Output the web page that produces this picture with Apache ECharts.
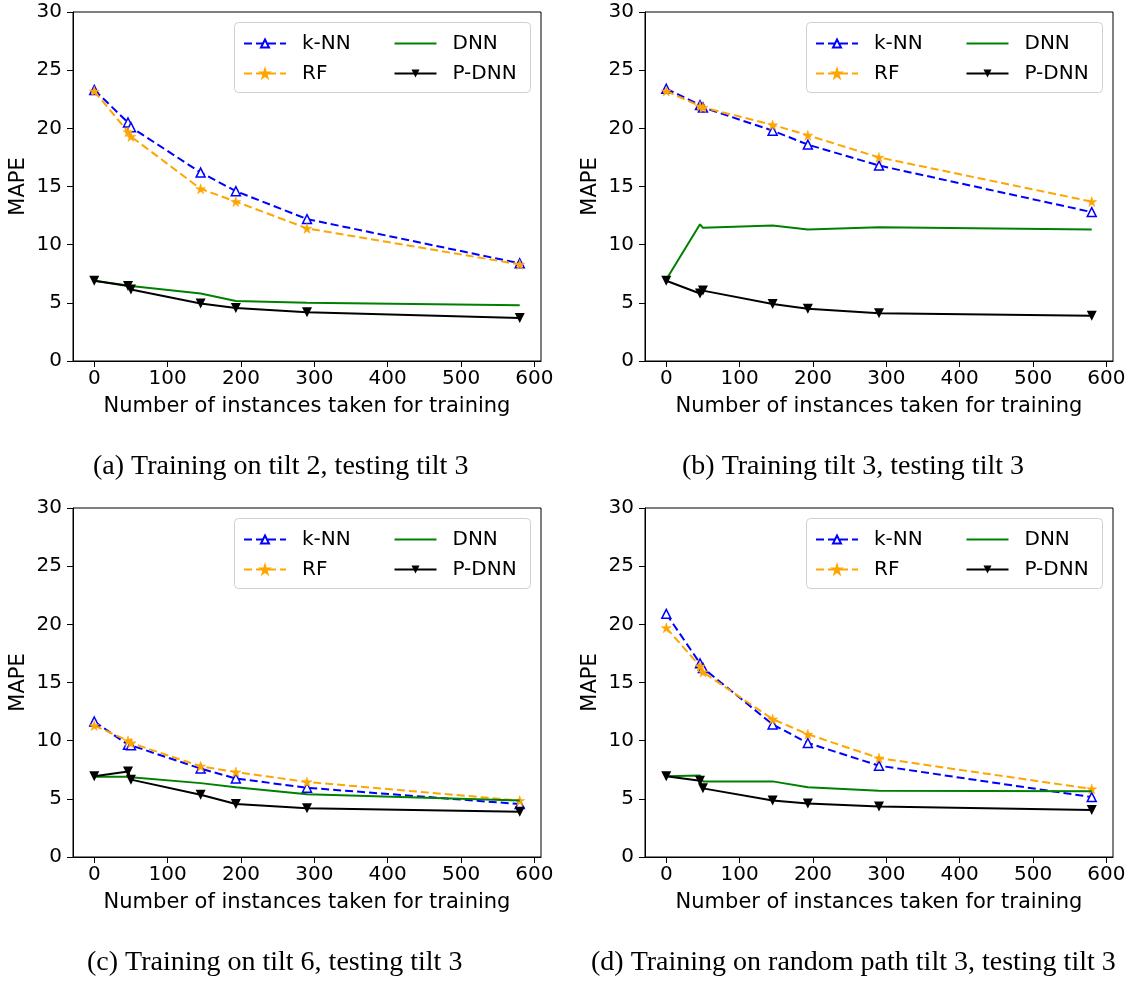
<!DOCTYPE html>
<html><head><meta charset="utf-8">
<script src="https://cdn.jsdelivr.net/npm/echarts@6/dist/echarts.min.js"></script>
<style>html,body{margin:0;padding:0;background:#fff}#c{width:1133px;height:985px}</style>
</head><body><div id="c"></div><script>
// ---- data ----
const xs = [0, 46, 50, 145, 193, 290, 580];
const xTickValues = [0, 100, 200, 300, 400, 500, 600];
const seriesNames = ['k-NN', 'RF', 'DNN', 'P-DNN'];

const knnA  = [23.3, 20.5, 20.1, 16.2, 14.6, 12.2, 8.4];
const rfA   = [23.2, 19.7, 19.3, 14.8, 13.7, 11.4, 8.3];
const dnnA  = [6.9, 6.5, 6.45, 5.8, 5.15, 5.0, 4.8];
const pdnnA = [6.9, 6.45, 6.15, 4.95, 4.55, 4.2, 3.7];

const knnB  = [23.4, 22.0, 21.8, 19.8, 18.6, 16.8, 12.8];
const rfB   = [23.2, 21.9, 21.8, 20.3, 19.4, 17.5, 13.7];
const dnnB  = [7.0, 11.75, 11.45, 11.65, 11.3, 11.5, 11.3];
const pdnnB = [6.9, 5.8, 6.05, 4.9, 4.5, 4.1, 3.9];

const knnC  = [11.65, 9.65, 9.6, 7.6, 6.75, 5.95, 4.55];
const rfC   = [11.3, 10.0, 9.8, 7.8, 7.3, 6.45, 4.85];
const dnnC  = [6.9, 6.9, 6.85, 6.35, 6.0, 5.4, 4.85];
const pdnnC = [6.95, 7.35, 6.65, 5.35, 4.55, 4.2, 3.9];

const knnD  = [20.9, 16.65, 16.25, 11.4, 9.8, 7.85, 5.15];
const rfD   = [19.7, 16.4, 15.9, 11.85, 10.55, 8.5, 5.85];
const dnnD  = [6.95, 7.0, 6.5, 6.5, 6.0, 5.7, 5.65];
const pdnnD = [6.95, 6.55, 5.9, 4.85, 4.6, 4.35, 4.05];

const captions = [
  '(a) Training on tilt 2, testing tilt 3',
  '(b) Training tilt 3, testing tilt 3',
  '(c) Training on tilt 6, testing tilt 3',
  '(d) Training on random path tilt 3, testing tilt 3'
];
const xTitle = 'Number of instances taken for training';
const yTitle = 'MAPE';

// ---- layout ----
const SANS = 'DejaVu Sans';
const SERIF = 'Liberation Serif';
const GW = 468, GH = 349;
const panels = [
  {left: 73,  top: 12,  data: [knnA, rfA, dnnA, pdnnA], cap: captions[0], capX: 93,  capY: 467},
  {left: 645, top: 12,  data: [knnB, rfB, dnnB, pdnnB], cap: captions[1], capX: 682, capY: 467},
  {left: 73,  top: 508, data: [knnC, rfC, dnnC, pdnnC], cap: captions[2], capX: 87,  capY: 963},
  {left: 645, top: 508, data: [knnD, rfD, dnnD, pdnnD], cap: captions[3], capX: 591, capY: 963}
];

const STAR = 'path://M50,0 L61,35 L98,35 L68,57 L79,91 L50,70 L21,91 L32,57 L2,35 L39,35 Z';
const styles = [
  {lineStyle: {color: '#0000ff', width: 2, type: [8, 4]}, symbol: 'triangle', symbolSize: 9,
   itemStyle: {color: '#ffffff', borderColor: '#0000ff', borderWidth: 1.5}},
  {lineStyle: {color: '#ffa500', width: 2, type: [8, 4]}, symbol: STAR, symbolSize: 10,
   itemStyle: {color: '#ffa500', borderColor: '#ffa500', borderWidth: 0.5}},
  {lineStyle: {color: '#008000', width: 2}, symbol: 'none', symbolSize: 0,
   itemStyle: {color: '#008000'}},
  {lineStyle: {color: '#000000', width: 2}, symbol: 'triangle', symbolSize: 10, symbolRotate: 180,
   itemStyle: {color: '#000000'}}
];

const grid = [], xAxis = [], yAxis = [], series = [], legend = [], graphic = [];
panels.forEach((p, i) => {
  grid.push({left: p.left, top: p.top, width: GW, height: GH, show: true,
    borderColor: '#000', borderWidth: 1, backgroundColor: 'transparent', containLabel: false});
  xAxis.push({
    type: 'value', gridIndex: i, min: -29, max: 609,
    name: xTitle, nameLocation: 'middle', nameGap: 35,
    nameTextStyle: {fontFamily: SANS, fontSize: 21, color: '#000'},
    axisLine: {show: true, onZero: false, lineStyle: {color: '#000', width: 1}},
    axisTick: {show: true, length: 6, lineStyle: {color: '#000', width: 1}, customValues: xTickValues},
    axisLabel: {fontFamily: SANS, fontSize: 20, color: '#000', margin: 8, customValues: xTickValues},
    splitLine: {show: false}
  });
  yAxis.push({
    type: 'value', gridIndex: i, min: 0, max: 30, interval: 5,
    name: yTitle, nameLocation: 'middle', nameGap: 44, nameRotate: 90,
    nameTextStyle: {fontFamily: SANS, fontSize: 21, color: '#000'},
    axisLine: {show: true, onZero: false, lineStyle: {color: '#000', width: 1}},
    axisTick: {show: true, length: 6, lineStyle: {color: '#000', width: 1}},
    axisLabel: {fontFamily: SANS, fontSize: 20, color: '#000', margin: 11},
    splitLine: {show: false}
  });
  p.data.forEach((arr, k) => {
    series.push(Object.assign({
      type: 'line', name: seriesNames[k], xAxisIndex: i, yAxisIndex: i,
      data: xs.map((x, j) => [x, arr[j]]), showSymbol: true, animation: false, z: 2 + k
    }, JSON.parse(JSON.stringify(styles[k]))));
  });
  const boxLeft = p.left + GW - 10.5 - 296;
  const boxTop = p.top + 10.5;
  graphic.push({type: 'rect', z: 1, shape: {x: boxLeft, y: boxTop, width: 296, height: 70, r: 4},
    style: {fill: 'rgba(255,255,255,0.8)', stroke: '#d0d0d0', lineWidth: 1}});
  const legCommon = {orient: 'vertical', itemWidth: 42, itemHeight: 10, itemGap: 10, padding: 0,
    selectedMode: false, top: boxTop + 11,
    textStyle: {fontFamily: SANS, fontSize: 20, color: '#000', padding: [0, 0, 0, 11]}};
  legend.push(Object.assign({}, legCommon, {left: boxLeft + 8.5, data: ['k-NN', 'RF']}));
  legend.push(Object.assign({}, legCommon, {left: boxLeft + 159, data: [
    {name: 'DNN', itemStyle: {color: 'rgba(0,0,0,0)', borderColor: 'rgba(0,0,0,0)', borderWidth: 0}},
    'P-DNN']}));
  graphic.push({type: 'text', z: 10, style: {text: p.cap, x: p.capX, y: p.capY,
    font: '28px "' + SERIF + '"', fill: '#000', verticalAlign: 'middle', align: 'left'}});
});

const chart = echarts.init(document.getElementById('c'), null, {renderer: 'canvas'});
chart.setOption({animation: false, backgroundColor: '#fff', grid, xAxis, yAxis, series, legend, graphic});
</script></body></html>
